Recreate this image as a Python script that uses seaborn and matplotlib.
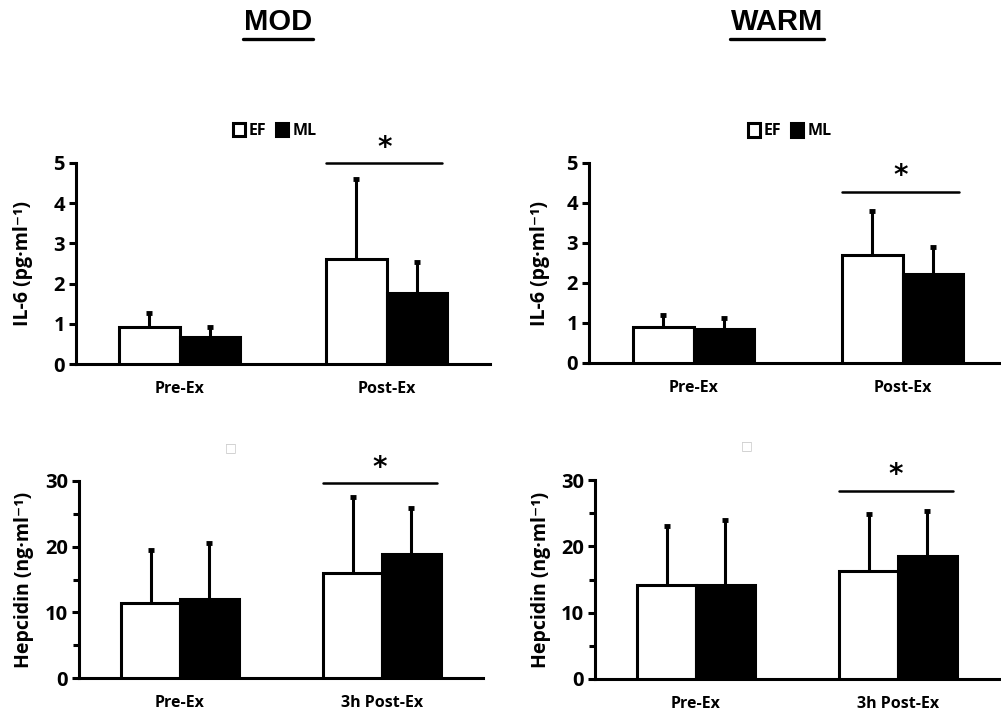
import matplotlib
matplotlib.use("Agg")
import matplotlib.pyplot as plt
import seaborn as sns
import pandas as pd
import numpy as np
from matplotlib.lines import Line2D
from matplotlib.ticker import FixedLocator

sns.set_style("white")
plt.rcParams['font.family'] = ['Open Sans', 'DejaVu Sans']
plt.rcParams['font.weight'] = 'bold'
for k in ["text.color", "axes.labelcolor", "xtick.color", "ytick.color", "axes.edgecolor"]:
    plt.rcParams[k] = "black"

groups = ["EF", "ML"]
times_il6 = ["Pre-Ex", "Post-Ex"]
times_hep = ["Pre-Ex", "3h Post-Ex"]

# MOD IL-6
mod_il6_ef = [0.91, 2.62]
mod_il6_ef_sd = [0.35, 1.99]
mod_il6_ml = [0.66, 1.76]
mod_il6_ml_sd = [0.27, 0.77]
# WARM IL-6
warm_il6_ef = [0.91, 2.70]
warm_il6_ef_sd = [0.29, 1.10]
warm_il6_ml = [0.85, 2.23]
warm_il6_ml_sd = [0.27, 0.68]
# MOD Hepcidin
mod_hep_ef = [11.4, 16.0]
mod_hep_ef_sd = [8.1, 11.6]
mod_hep_ml = [12.1, 18.85]
mod_hep_ml_sd = [8.4, 7.0]
# WARM Hepcidin
warm_hep_ef = [14.1, 16.35]
warm_hep_ef_sd = [8.9, 8.5]
warm_hep_ml = [14.2, 18.5]
warm_hep_ml_sd = [9.8, 6.9]

sig_levels = {"TL": 5.0, "TR": 4.28, "BL": 29.7, "BR": 28.4}

W, H = 1001, 716
fig = plt.figure(figsize=(W / 100, H / 100), dpi=100)

def px_axes(x0, x1, ytop, ybot):
    ax = fig.add_axes([x0 / W, 1 - ybot / H, (x1 - x0) / W, (ybot - ytop) / H])
    ax._px = (x0, x1)
    return ax

LW = 2.2

def panel(ax, times, ef, ef_sd, ml, ml_sd, ylim, yticks, yminor, ylabel, label_x,
          sig, legend, ghost):
    df = pd.DataFrame({
        "time": times * 2,
        "group": [groups[0]] * 2 + [groups[1]] * 2,
        "value": ef + ml,
    })
    sns.barplot(data=df, x="time", y="value", hue="group", order=times,
                hue_order=groups, palette={"EF": "white", "ML": "black"},
                edgecolor="black", linewidth=LW, width=0.58, gap=0,
                errorbar=None, legend=False, ax=ax, zorder=3)
    sds = [ef_sd, ml_sd]
    for cont, sd in zip(ax.containers, sds):
        xs = [b.get_x() + b.get_width() / 2 for b in cont]
        ys = [b.get_height() for b in cont]
        eb = ax.errorbar(xs, ys, yerr=[np.zeros(len(sd)), sd], fmt="none",
                         ecolor="black", elinewidth=LW, capsize=2.2, capthick=3.5, zorder=2)
        for cl in eb[1]:
            if np.allclose(cl.get_ydata(), ys):
                cl.set_visible(False)
    ax.set_xlim(-0.5, 1.5)
    ax.set_ylim(*ylim)
    ax.set_yticks(yticks)
    ax.set_yticklabels([str(t) for t in yticks], fontsize=14.5, fontweight="bold")
    if yminor:
        ax.yaxis.set_minor_locator(FixedLocator(yminor))
    ax.xaxis.set_minor_locator(FixedLocator([-0.5, 0.5, 1.5]))
    ax.tick_params(axis="x", which="major", length=0, pad=12, labelsize=11.5)
    ax.tick_params(axis="x", which="minor", length=5, width=LW, direction="out", color="black")
    ax.tick_params(axis="y", which="both", length=5, width=LW, direction="out", color="black", left=True, pad=3)
    ax.tick_params(axis="y", which="minor", length=4)
    for lab in ax.get_xticklabels():
        lab.set_fontweight("bold")
    ax.set_xlabel("")
    ax.set_ylabel(ylabel, fontsize=14, fontweight="bold")
    x0, x1 = ax._px
    ax.yaxis.set_label_coords((label_x - x0) / (x1 - x0), 0.5)
    ax.yaxis.label.set_verticalalignment("center")
    sns.despine(ax=ax)
    for s in ["left", "bottom"]:
        ax.spines[s].set_linewidth(LW)
        ax.spines[s].set_color("black")
    # significance line and asterisk over second group
    b_left = ax.containers[0][1]
    b_right = ax.containers[1][1]
    xl = b_left.get_x()
    xr = b_right.get_x() + b_right.get_width() - 0.02
    ax.plot([xl, xr], [sig, sig], color="black", lw=1.8, clip_on=False, zorder=4)
    ax.annotate("*", xy=((xl + xr) / 2, sig), xytext=(0, 1), textcoords="offset points",
                ha="center", va="bottom", fontsize=20, fontweight="bold",
                family=["DejaVu Sans"], annotation_clip=False)
    if legend:
        handles = [ax.containers[0][0], ax.containers[1][0]]
        ax.legend(handles, groups, loc="center", bbox_to_anchor=(0.48, 1.16),
                  ncol=2, frameon=False, handlelength=0.75, handleheight=0.95,
                  handletextpad=0.25, columnspacing=0.6, borderaxespad=0,
                  prop={"weight": "bold", "size": 11.5})
    if ghost:
        ax.text(0.375, 1.17, "\u25a1", transform=ax.transAxes, ha="center", va="center",
                fontsize=9, color="#c8c8c8", family=["DejaVu Sans"])

ax_tl = px_axes(76, 490, 163, 364)
ax_tr = px_axes(589, 1007, 163, 363)
ax_bl = px_axes(79, 483, 481, 678)
ax_br = px_axes(595, 999, 480, 679)

il6_label = "IL-6 (pg\u00b7ml\u207b\u00b9)"
hep_label = "Hepcidin (ng\u00b7ml\u207b\u00b9)"

panel(ax_tl, times_il6, mod_il6_ef, mod_il6_ef_sd, mod_il6_ml, mod_il6_ml_sd,
      (0, 5), [0, 1, 2, 3, 4, 5], None, il6_label, 23, sig_levels["TL"], True, False)
panel(ax_tr, times_il6, warm_il6_ef, warm_il6_ef_sd, warm_il6_ml, warm_il6_ml_sd,
      (0, 5), [0, 1, 2, 3, 4, 5], None, il6_label, 540, sig_levels["TR"], True, False)
panel(ax_bl, times_hep, mod_hep_ef, mod_hep_ef_sd, mod_hep_ml, mod_hep_ml_sd,
      (0, 30), [0, 10, 20, 30], [5, 15, 25], hep_label, 24, sig_levels["BL"], False, True)
panel(ax_br, times_hep, warm_hep_ef, warm_hep_ef_sd, warm_hep_ml, warm_hep_ml_sd,
      (0, 30), [0, 10, 20, 30], [5, 15, 25], hep_label, 541, sig_levels["BR"], False, True)

titles = [("MOD", 278), ("WARM", 777)]
tobjs = []
for t, xc in titles:
    tx = fig.text(xc / W, 1 - 22 / H, t, ha="center", va="center", fontsize=21,
                  fontweight="bold", family=["Liberation Sans", "DejaVu Sans"])
    tobjs.append(tx)

fig.canvas.draw()
r = fig.canvas.get_renderer()
for tx in tobjs:
    bb = tx.get_window_extent(r)
    y = 1 - 38.5 / H
    fig.add_artist(Line2D([(bb.x0 - 1) / W, (bb.x1 + 1) / W], [y, y], color="black", lw=2.4,
                          transform=fig.transFigure))

fig.savefig("out.png", dpi=100)
